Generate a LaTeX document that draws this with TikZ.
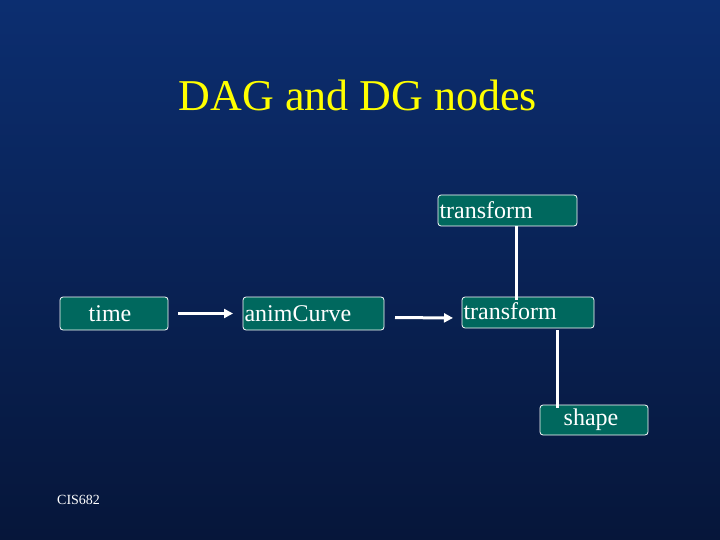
\documentclass[tikz,border=0pt]{standalone}
\usepackage{fontspec}
\setmainfont{Liberation Serif}
\usetikzlibrary{arrows.meta,calc}
\definecolor{bgtop}{RGB}{12,46,112}
\definecolor{bgbot}{RGB}{6,22,58}
\definecolor{teal}{RGB}{0,104,94}
\definecolor{titley}{RGB}{255,255,0}
\tikzset{
  box/.style={draw=white, line width=0.8pt, fill=teal, rounded corners=3pt,
    text=white, font=\fontsize{24}{26}\selectfont, inner sep=0pt, outer sep=0pt},
  conn/.style={white, line width=3pt},
  arr/.style={conn, -{Triangle[length=9pt,width=9pt]}}
}
\begin{document}
\begin{tikzpicture}[x=1pt,y=-1pt]
\shade[top color=bgtop, bottom color=bgbot] (0,0) rectangle (720,540);
\useasboundingbox (0,0) rectangle (720,540);
\node[text=titley, font=\fontsize{44}{48}\selectfont] (title) at (358,95) {DAG and DG nodes};
\node[box, minimum width=139pt, minimum height=31pt, text width=136pt, align=left] (t1) at (507.5,210.5) {\hspace{0pt}transform};
\node[box, minimum width=108pt, minimum height=33pt, align=center] (time) at (114,313.5) {time\hspace{8pt}};
\node[box, minimum width=141pt, minimum height=33pt, text width=138pt, align=left] (anim) at (313.5,313.5) {animCurve};
\node[box, minimum width=132pt, minimum height=31pt, text width=129pt, align=left] (t2) at (528,312.5) {\raisebox{3pt}{transform}};
\node[box, minimum width=108pt, minimum height=30pt, align=center] (shape) at (594,420) {\hspace{-6pt}shape};
\node[text=white, font=\fontsize{14}{16}\selectfont, anchor=west, inner sep=0pt] (cis) at (57,500) {CIS682};
\draw[arr, shorten <=10pt, shorten >=10pt] (time.east) -- (anim.west);
\draw[arr, shorten <=11pt, shorten >=9pt] ($(anim.east)+(0,4)$) -- ($(t2.west)+(0,5.5)$);
\draw[conn, shorten >=-3pt] (t1.south -| 516,0) -- (t2.north -| 516,0);
\draw[conn, shorten <=2pt, shorten >=-3pt] (t2.south -| 557,0) -- (shape.north -| 557,0);
\end{tikzpicture}
\end{document}
